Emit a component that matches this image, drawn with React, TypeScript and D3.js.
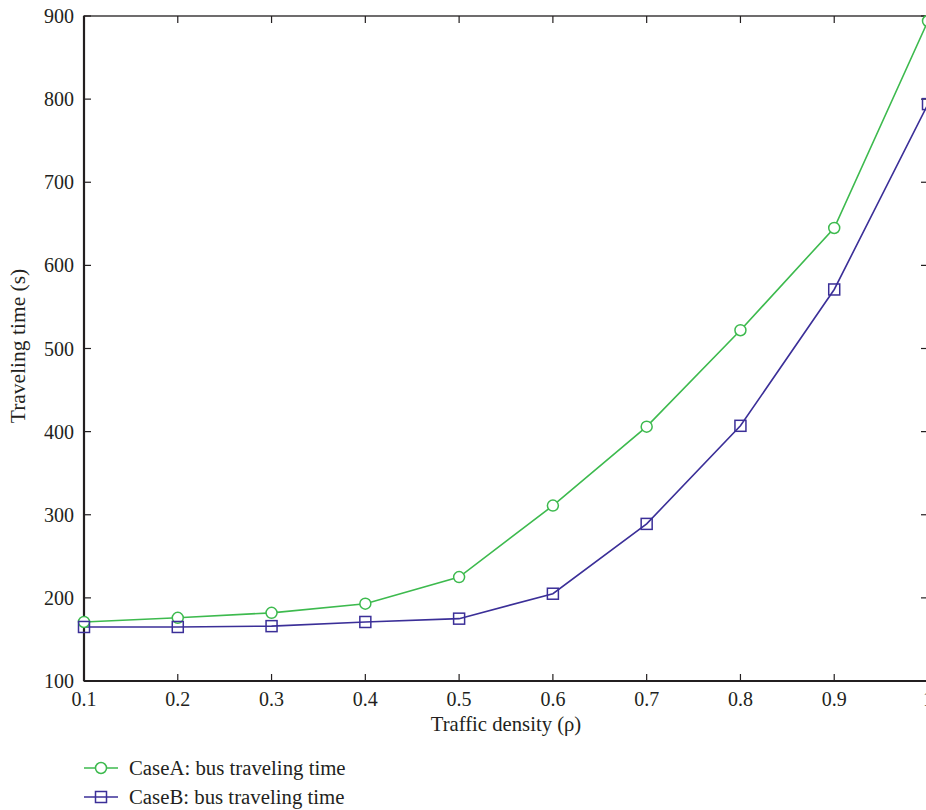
import * as d3 from 'd3';
import { useEffect, useRef } from 'react';

const density = [0.1, 0.2, 0.3, 0.4, 0.5, 0.6, 0.7, 0.8, 0.9, 1.0];
const caseA = [171, 176, 182, 193, 225, 311, 406, 522, 645, 894];
const caseB = [165, 165, 166, 171, 175, 205, 289, 407, 571, 794];
const xTicks = [0.1, 0.2, 0.3, 0.4, 0.5, 0.6, 0.7, 0.8, 0.9, 1];
const yTicks = [100, 200, 300, 400, 500, 600, 700, 800, 900];
const legendLabels = ['CaseA: bus traveling time', 'CaseB: bus traveling time'];

const W = 926;
const H = 810;
const FONT = '"Liberation Serif", "DejaVu Serif", serif';
const GREEN = '#3dba4e';
const BLUE = '#3b2f98';

export default function App() {
  const svgRef = useRef<SVGSVGElement | null>(null);

  useEffect(() => {
    if (!svgRef.current) return;
    const svg = d3.select(svgRef.current);
    svg.selectAll('*').remove();

    const left = 84, top = 16, bottom = 681, right = 928;
    const x = d3.scaleLinear().domain([0.1, 1]).range([left, right]);
    const y = d3.scaleLinear().domain([100, 900]).range([bottom, top]);
    const tick = 7;

    // ── frame ────────────────────────────────────────────
    const axisColor = '#231f20';
    svg.append('rect')
      .attr('x', left).attr('y', top)
      .attr('width', right - left).attr('height', bottom - top)
      .attr('fill', 'none').attr('stroke', axisColor).attr('stroke-width', 1.3);
    svg.append('line')
      .attr('x1', left).attr('x2', left).attr('y1', top).attr('y2', bottom)
      .attr('stroke', axisColor).attr('stroke-width', 2.2);
    svg.append('line')
      .attr('x1', left).attr('x2', right).attr('y1', bottom).attr('y2', bottom)
      .attr('stroke', axisColor).attr('stroke-width', 2.2);

    // ── ticks ────────────────────────────────────────────
    xTicks.forEach(t => {
      const px = x(t);
      svg.append('line').attr('x1', px).attr('x2', px).attr('y1', bottom).attr('y2', bottom - tick)
        .attr('stroke', axisColor).attr('stroke-width', 1.2);
      svg.append('line').attr('x1', px).attr('x2', px).attr('y1', top).attr('y2', top + tick)
        .attr('stroke', axisColor).attr('stroke-width', 1.2);
      svg.append('text')
        .attr('x', px).attr('y', bottom + 25)
        .attr('text-anchor', 'middle')
        .attr('font-family', FONT).attr('font-size', 20).attr('fill', axisColor)
        .text(String(t));
    });
    yTicks.forEach(t => {
      const py = y(t);
      svg.append('line').attr('x1', left).attr('x2', left + tick).attr('y1', py).attr('y2', py)
        .attr('stroke', axisColor).attr('stroke-width', 1.2);
      svg.append('line').attr('x1', right).attr('x2', right - tick).attr('y1', py).attr('y2', py)
        .attr('stroke', axisColor).attr('stroke-width', 1.2);
      svg.append('text')
        .attr('x', left - 10).attr('y', py + 7)
        .attr('text-anchor', 'end')
        .attr('font-family', FONT).attr('font-size', 20).attr('fill', axisColor)
        .text(String(t));
    });

    // ── axis titles ──────────────────────────────────────
    svg.append('text')
      .attr('x', 506).attr('y', 731)
      .attr('text-anchor', 'middle')
      .attr('font-family', FONT).attr('font-size', 20.7).attr('fill', axisColor)
      .text('Traffic density (ρ)');
    svg.append('text')
      .attr('transform', `translate(25,346) rotate(-90)`)
      .attr('text-anchor', 'middle')
      .attr('font-family', FONT).attr('font-size', 21.5).attr('fill', axisColor)
      .text('Traveling time (s)');

    // ── series ───────────────────────────────────────────
    const line = d3.line<number>().x((_, i) => x(density[i])).y(d => y(d));

    svg.append('path').datum(caseA).attr('d', line)
      .attr('fill', 'none').attr('stroke', GREEN).attr('stroke-width', 1.6);
    svg.append('path').datum(caseB).attr('d', line)
      .attr('fill', 'none').attr('stroke', BLUE).attr('stroke-width', 1.6);

    svg.selectAll('.mA').data(caseA).enter().append('circle')
      .attr('cx', (_, i) => x(density[i])).attr('cy', d => y(d)).attr('r', 5.5)
      .attr('fill', 'white').attr('stroke', GREEN).attr('stroke-width', 1.5);
    svg.selectAll('.mB').data(caseB).enter().append('rect')
      .attr('x', (_, i) => x(density[i]) - 5.5).attr('y', d => y(d) - 5.5)
      .attr('width', 11).attr('height', 11)
      .attr('fill', 'none').attr('stroke', BLUE).attr('stroke-width', 1.5);

    // ── legend ───────────────────────────────────────────
    const legendY = [768, 797];
    [GREEN, BLUE].forEach((c, i) => {
      const ly = legendY[i];
      svg.append('line').attr('x1', 84).attr('x2', 118).attr('y1', ly).attr('y2', ly)
        .attr('stroke', c).attr('stroke-width', 1.6);
      if (i === 0) {
        svg.append('circle').attr('cx', 101).attr('cy', ly).attr('r', 5.5)
          .attr('fill', 'white').attr('stroke', c).attr('stroke-width', 1.5);
      } else {
        svg.append('rect').attr('x', 95.5).attr('y', ly - 5.5).attr('width', 11).attr('height', 11)
          .attr('fill', 'none').attr('stroke', c).attr('stroke-width', 1.5);
      }
      svg.append('text')
        .attr('x', 129).attr('y', ly + 7)
        .attr('font-family', FONT).attr('font-size', 20.8).attr('fill', axisColor)
        .text(legendLabels[i]);
    });
  }, []);

  return (
    <svg
      ref={svgRef}
      width={W}
      height={H}
      style={{ position: 'absolute', left: 0, top: 0, display: 'block', background: 'white' }}
    />
  );
}
